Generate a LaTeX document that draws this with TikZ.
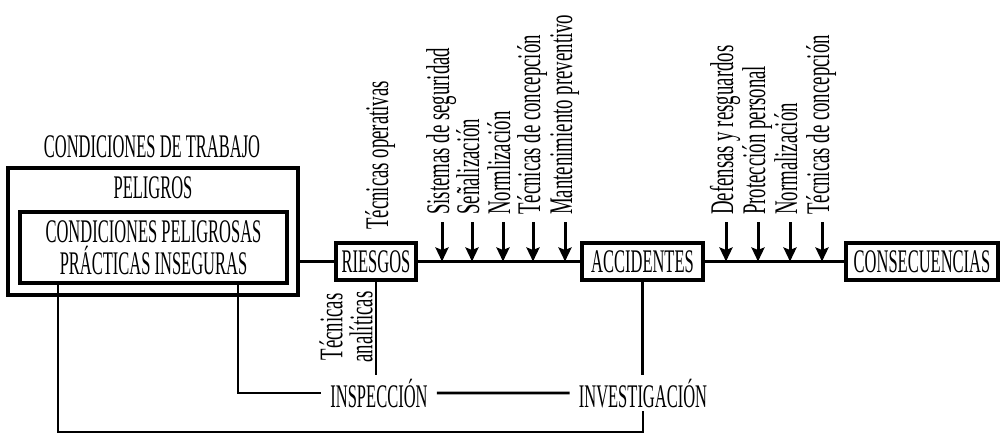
\documentclass[tikz,border=0pt]{standalone}
\usepackage{fontspec}
\setmainfont{Liberation Serif}[FakeStretch=0.5]
\newfontfamily\giradafont{Liberation Serif}[FakeStretch=0.57]
\usepackage{tikz}
\usetikzlibrary{arrows.meta, positioning, calc}

\begin{document}
\begin{tikzpicture}[x=1pt, y=1pt,
  caja/.style={draw, line width=3.2pt, inner sep=0pt, minimum height=37pt, font=\fontsize{33}{32}\selectfont},
  texto/.style={inner sep=0pt, font=\fontsize{33}{32}\selectfont},
  giro/.style={rotate=90, anchor=base west, inner sep=0pt, font=\giradafont\fontsize{33}{30}\selectfont},
  linea/.style={line width=2.8pt},
  flecha/.style={line width=3pt, -{Stealth[length=14pt,width=13pt,inset=2.5pt]}}]
\useasboundingbox (0,0) rectangle (1002,440);

% Condiciones de trabajo
\node[texto, anchor=base] (condtrab) at (152,283) {CONDICIONES DE TRABAJO};
\node[caja, minimum width=290pt, minimum height=127pt] (trabajo) at (153,208.5) {};
\node[texto, anchor=base] (peligros) at (153,242) {PELIGROS};
\node[caja, align=center, minimum width=267pt, minimum height=71pt] (inseguras) at (153.5,192.5) {CONDICIONES PELIGROSAS\\PRÁCTICAS INSEGURAS};

% Cadena principal
\node[caja, minimum width=80pt] (riesgos) at (376,178.5) {RIESGOS};
\node[caja, minimum width=121pt] (accidentes) at (642.5,178.5) {ACCIDENTES};
\node[caja, minimum width=152pt] (consecuencias) at (922,178.5) {CONSECUENCIAS};
\draw[linea] (riesgos.west) -- (riesgos.west -| trabajo.east);
\draw[linea] (riesgos) -- (accidentes);
\draw[linea] (accidentes) -- (consecuencias);

% Tecnicas antes del accidente
\foreach \x/\t [count=\i] in {442/Sistemas de seguridad, 472/Señalización, 503/Normlización, 533/Técnicas de concepción, 565/Mantenimiento preventivo}{
  \node[giro] (prev\i) at (\x+7,225) {\t};
  \coordinate (fp\i) at (\x,218);
  \draw[flecha] (fp\i) -- (fp\i |- riesgos.east);
}

% Tecnicas despues del accidente
\foreach \x/\t [count=\i] in {726/Defensas y resguardos, 758/Protección personal, 790/Normalización, 822/Técnicas de concepción}{
  \node[giro] (prot\i) at (\x+7,225) {\t};
  \coordinate (fa\i) at (\x,218);
  \draw[flecha] (fa\i) -- (fa\i |- accidentes.east);
}

% Tecnicas operativas y analiticas
\node[giro] (operativas) at (388,210) {Técnicas operativas};
\node[rotate=90, align=center, inner sep=0pt, font=\giradafont\fontsize{33}{30}\selectfont] (analiticas) at (346,113) {Técnicas\\analíticas};

% Inspeccion e investigacion
\node[texto, anchor=base, inner xsep=9pt, inner ysep=3pt] (inspeccion) at (379,33) {INSPECCIÓN};
\node[texto, anchor=base, inner xsep=9pt, inner ysep=3pt] (investigacion) at (643,33) {INVESTIGACIÓN};
\draw[linea] (inspeccion) -- (investigacion);
\draw[linea] (riesgos.south) -- (riesgos.south |- inspeccion.north);
\draw[linea] (accidentes.south) -- (accidentes.south |- investigacion.north);
\coordinate (ramaA) at (238,157);
\coordinate (ramaB) at (58,157);
\coordinate (fondo) at (0,8);
\draw[linea] (ramaA) |- (inspeccion.west);
\draw[linea] (ramaB) |- (investigacion.south |- fondo) -- (investigacion.south);
\end{tikzpicture}
\end{document}
